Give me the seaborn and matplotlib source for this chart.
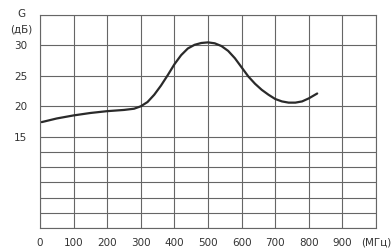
import matplotlib
matplotlib.use("Agg")
import matplotlib.pyplot as plt
import seaborn as sns
import pandas as pd

freq_mhz = [5, 50, 100, 150, 200, 250, 280, 300, 320, 340, 360, 380, 400,
            420, 440, 460, 480, 500, 520, 540, 560, 580, 600, 620, 640, 660,
            680, 700, 720, 740, 760, 780, 800, 825]
gain_db = [17.4, 18.0, 18.5, 18.9, 19.2, 19.4, 19.6, 20.0, 20.7, 21.9, 23.4,
           25.1, 26.9, 28.4, 29.5, 30.1, 30.4, 30.5, 30.35, 29.9, 29.1, 27.9,
           26.4, 24.9, 23.7, 22.7, 21.9, 21.2, 20.8, 20.6, 20.6, 20.8, 21.3,
           22.1]

x_ticks = [0, 100, 200, 300, 400, 500, 600, 700, 800, 900, 1000]
x_labels = ["0", "100", "200", "300", "400", "500", "600", "700", "800", "900", "(МГц)"]
y_grid = [0, 2.5, 5, 7.5, 10, 12.5, 15, 20, 25, 30, 35]
y_labels = ["", "", "", "", "", "", "15", "20", "25", "30", ""]

sns.set_theme(style="white")
plt.rcParams['font.family'] = ['DejaVu Sans']

fig = plt.figure(figsize=(3.91, 2.48), dpi=100)
ax = fig.add_axes([40/391, 1-228/248, (376-40)/391, (228-15)/248])

df = pd.DataFrame({"f": freq_mhz, "g": gain_db})
sns.lineplot(data=df, x="f", y="g", ax=ax, color="#2a2a2a", linewidth=1.6)

ax.set_xlim(0, 1000)
ax.set_ylim(0, 35)
ax.set_xticks(x_ticks)
ax.set_xticklabels(x_labels)
ax.set_yticks(y_grid)
ax.set_yticklabels(y_labels)
ax.grid(True, color="#666666", linewidth=0.8)
for s in ax.spines.values():
    s.set_color("#666666")
    s.set_linewidth(0.8)
ax.tick_params(axis="both", length=0, labelsize=7.5, colors="#333333")
ax.tick_params(axis="x", pad=7)
ax.tick_params(axis="y", pad=9)
ax.set_xlabel("")
ax.set_ylabel("")

fig.text(21/391, 1-14/248, "G", ha="center", va="center", fontsize=7.5, color="#333333")
fig.text(21/391, 1-29/248, "(дБ)", ha="center", va="center", fontsize=7.5, color="#333333")

fig.savefig("out.png", dpi=100, facecolor="white")
